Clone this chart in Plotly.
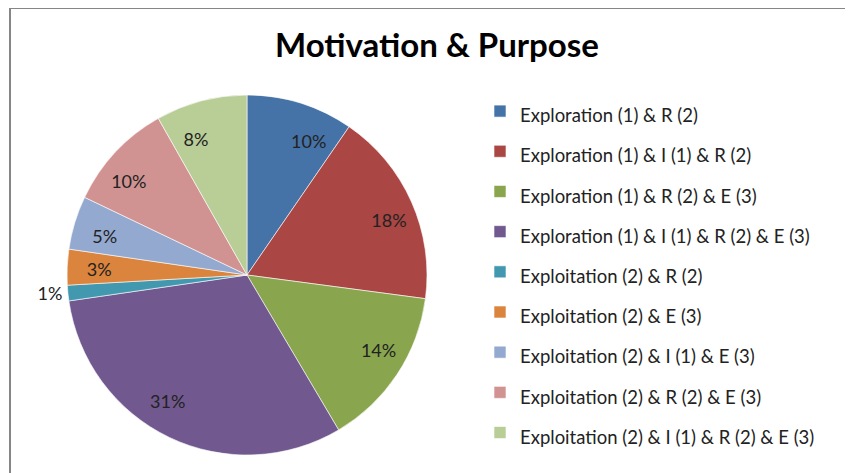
import plotly.graph_objects as go

# ----- Data ----- #

categories = [
    "Exploration (1) & R (2)",
    "Exploration (1) & I (1) & R (2)",
    "Exploration (1) & R (2) & E (3)",
    "Exploration (1) & I (1) & R (2) & E (3)",
    "Exploitation (2) & R (2)",
    "Exploitation (2) & E (3)",
    "Exploitation (2) & I (1) & E (3)",
    "Exploitation (2) & R (2) & E (3)",
    "Exploitation (2) & I (1) & R (2) & E (3)",
]
shares = [9.6, 17.5, 14.4, 31.2, 1.4, 3.2, 4.8, 9.7, 8.2]
slice_colors = ["#4572A7", "#AA4643", "#89A54E", "#71588F", "#4198AF",
                "#DB843D", "#93A9CF", "#D19392", "#B9CD96"]
# which slices get their % label outside the pie (Excel "best fit")
outside_label = [False, False, False, False, True, False, False, False, False]

W, H = 853, 473
# pie centre / radius in px
cx, cy, R = 239, 267, 180
r_lab = 130  # ring where the inner % labels sit

pct = "%{percent:.0%}"
label_font = dict(family="Lato", size=18, color="#222222")

fig = go.Figure()

# the real pie
fig.add_trace(go.Pie(
    labels=['<span style="font-size:18.5px">%s</span>' % c for c in categories],
    values=shares,
    sort=False,
    direction="clockwise",
    rotation=0,
    marker=dict(colors=slice_colors, line=dict(color="white", width=0.6)),
    texttemplate=[pct if o else "" for o in outside_label],
    textposition="outside",
    textfont=label_font,
    domain=dict(x=[(cx - R) / W, (cx + R) / W], y=[1 - (cy + R) / H, 1 - (cy - R) / H]),
    hoverinfo="label+percent",
))

# transparent copy, only used to place the inner % labels further out
fig.add_trace(go.Pie(
    labels=categories,
    values=shares,
    sort=False,
    direction="clockwise",
    rotation=0,
    marker=dict(colors=["rgba(0,0,0,0)"] * len(shares), line=dict(width=0)),
    texttemplate=["" if o else pct for o in outside_label],
    textposition="outside",
    textfont=label_font,
    showlegend=False,
    hoverinfo="skip",
    domain=dict(x=[(cx - r_lab) / W, (cx + r_lab) / W],
                y=[1 - (cy + r_lab) / H, 1 - (cy - r_lab) / H]),
))

fig.update_layout(
    width=W, height=H,
    margin=dict(l=0, r=0, t=0, b=0),
    paper_bgcolor="white",
    plot_bgcolor="white",
    font=dict(family="Lato", color="#222222"),
    uniformtext=dict(minsize=18, mode="show"),
    title=dict(text="<b>Motivation & Purpose</b>", x=429/W, xanchor="center",
               y=1-37/H, yanchor="middle",
               font=dict(family="Lato", size=33, color="black")),
    legend=dict(x=472/W, xanchor="left", y=1-78/H, yanchor="top",
                font=dict(family="Lato", size=28.6, color="#222222"),
                bgcolor="rgba(0,0,0,0)"),
    shapes=[dict(type="rect", xref="paper", yref="paper",
                 x0=2/W, x1=843/W, y0=-0.05, y1=1,
                 line=dict(color="#868686", width=2))],
)

fig.write_html("out.html")
